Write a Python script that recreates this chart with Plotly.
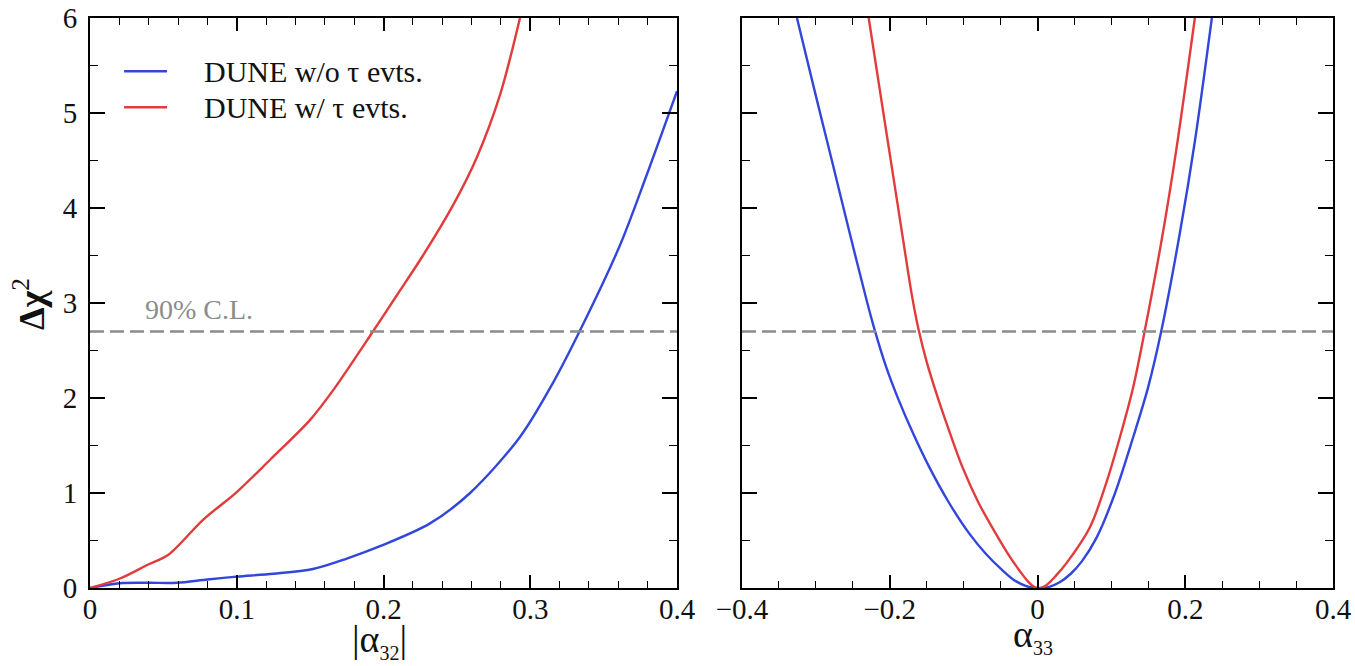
import plotly.graph_objects as go

# ---------------- data ----------------
# left panel: |alpha_32|
a32_wo_x = [0.0, 0.0204, 0.040, 0.059, 0.080, 0.100, 0.125, 0.152, 0.175, 0.1976, 0.2317, 0.259, 0.293, 0.3155, 0.3339, 0.3612, 0.3794, 0.400]
a32_wo_y = [0.0, 0.05, 0.055, 0.055, 0.09, 0.12, 0.15, 0.20, 0.31, 0.44, 0.68, 1.00, 1.59, 2.16, 2.71, 3.61, 4.35, 5.23]

a32_w_x = [0.0, 0.0204, 0.040, 0.0534, 0.0772, 0.100, 0.1227, 0.150, 0.1656, 0.1928, 0.2099, 0.2269, 0.2474, 0.2635, 0.2794, 0.293]
a32_w_y = [0.0, 0.10, 0.25, 0.35, 0.72, 1.01, 1.35, 1.77, 2.08, 2.70, 3.10, 3.50, 4.03, 4.53, 5.19, 6.0]

# right panel: alpha_33
a33_wo_x = [-0.3256, -0.300, -0.278, -0.255, -0.232, -0.222, -0.205, -0.188, -0.168, -0.147, -0.120, -0.093, -0.070, -0.048, -0.032,
            -0.017, -0.005, 0.005, 0.015, 0.030, 0.045, 0.060, 0.080, 0.105, 0.130, 0.150, 0.168, 0.193, 0.213, 0.236]
a33_wo_y = [6.0, 5.18, 4.49, 3.76, 3.05, 2.76, 2.33, 1.98, 1.62, 1.28, 0.90, 0.58, 0.36, 0.19, 0.085,
            0.025, 0.002, 0.0, 0.01, 0.06, 0.15, 0.28, 0.53, 1.00, 1.60, 2.12, 2.72, 3.75, 4.70, 6.0]

a33_w_x = [-0.2285, -0.213, -0.197, -0.183, -0.170, -0.161, -0.150, -0.134, -0.118, -0.102, -0.080, -0.057, -0.040, -0.025, -0.013,
           -0.004, 0.004, 0.012, 0.025, 0.040, 0.071, 0.092, 0.112, 0.130, 0.1455, 0.170, 0.188, 0.213]
a33_w_y = [6.0, 5.22, 4.42, 3.72, 3.08, 2.72, 2.38, 1.98, 1.62, 1.28, 0.90, 0.58, 0.36, 0.19, 0.07,
           0.01, 0.0, 0.03, 0.13, 0.27, 0.64, 1.08, 1.60, 2.13, 2.72, 3.75, 4.62, 6.0]

cl90 = 2.7
series_names = ["DUNE w/o τ evts.", "DUNE w/ τ evts."]
x_ticks_left = [0, 0.1, 0.2, 0.3, 0.4]
x_ticks_right = [-0.4, -0.2, 0, 0.2, 0.4]
x_ticklabels_right = ["\u22120.4", "\u22120.2", "0", "0.2", "0.4"]
y_ticks = [0, 1, 2, 3, 4, 5, 6]

# ---------------- style ----------------
BLUE = "#3346dc"
RED = "#e23b3b"
GRAY = "#8c8c8c"
FONT = "Liberation Serif"
W, H = 1355, 666

def px_x(p):
    return p / W

def px_y(p):
    return 1 - p / H

LINE = dict(width=2.4, shape="spline", smoothing=0.9)

fig = go.Figure()
fig.add_trace(go.Scatter(x=a32_wo_x, y=a32_wo_y, mode="lines", line=dict(color=BLUE, **LINE),
                         xaxis="x", yaxis="y", showlegend=False))
fig.add_trace(go.Scatter(x=a32_w_x, y=a32_w_y, mode="lines", line=dict(color=RED, **LINE),
                         xaxis="x", yaxis="y", showlegend=False))
fig.add_trace(go.Scatter(x=[0, 0.4], y=[cl90, cl90], mode="lines", line=dict(color=GRAY, width=2.5, dash="14px,6px"),
                         xaxis="x", yaxis="y", showlegend=False))

fig.add_trace(go.Scatter(x=a33_wo_x, y=a33_wo_y, mode="lines", line=dict(color=BLUE, **LINE),
                         xaxis="x2", yaxis="y2", showlegend=False))
fig.add_trace(go.Scatter(x=a33_w_x, y=a33_w_y, mode="lines", line=dict(color=RED, **LINE),
                         xaxis="x2", yaxis="y2", showlegend=False))
fig.add_trace(go.Scatter(x=[-0.4, 0.4], y=[cl90, cl90], mode="lines", line=dict(color=GRAY, width=2.5, dash="14px,6px"),
                         xaxis="x2", yaxis="y2", showlegend=False))

ydom = [px_y(588), px_y(18)]
common_axis = dict(showline=True, linecolor="black", linewidth=2, mirror="allticks", ticks="inside",
                   tickcolor="black", tickwidth=1.5, showgrid=False, zeroline=False, automargin=False,
                   ticklabeloverflow="allow",
                   tickfont=dict(family=FONT, size=29, color="#111"))
minor_common = dict(ticks="inside", tickcolor="black", tickwidth=1.2, showgrid=False)

fig.update_layout(
    width=W, height=H,
    margin=dict(l=0, r=0, t=0, b=0),
    paper_bgcolor="white", plot_bgcolor="white",
    xaxis=dict(domain=[px_x(90), px_x(677)], range=[0, 0.4], tickvals=x_ticks_left,
               ticktext=[("%g" % v) for v in x_ticks_left], ticklen=13, ticklabelstandoff=-6,
               minor=dict(dtick=0.02, ticklen=7, **minor_common),
               anchor="y", **common_axis),
    yaxis=dict(domain=ydom, range=[0, 6], tickvals=y_ticks, ticklen=15, ticklabelstandoff=5,
               minor=dict(dtick=0.5, ticklen=8, **minor_common),
               anchor="x", **common_axis),
    xaxis2=dict(domain=[px_x(742), px_x(1333)], range=[-0.4, 0.4], tickvals=x_ticks_right,
                ticktext=x_ticklabels_right, ticklen=13, ticklabelstandoff=-6,
                minor=dict(dtick=0.05, ticklen=7, **minor_common),
                anchor="y2", **common_axis),
    yaxis2=dict(domain=ydom, range=[0, 6], tickvals=y_ticks, ticklen=15, showticklabels=False,
                minor=dict(dtick=0.5, ticklen=8, **minor_common),
                anchor="x2", **common_axis),
)

# legend (drawn inside left panel)
leg_y = [5.44, 5.06]
for name, col, yy in zip(series_names, [BLUE, RED], leg_y):
    fig.add_shape(type="line", xref="x", yref="y", x0=0.0232, x1=0.0525, y0=yy, y1=yy,
                  line=dict(color=col, width=2.4))
    fig.add_annotation(xref="x", yref="y", x=0.0765, y=yy, text=name, showarrow=False, xanchor="left",
                       yanchor="middle", font=dict(family=FONT, size=30, color="#111"))

# CL label
fig.add_annotation(xref="x", yref="y", x=0.0745, y=2.93, text="90% C.L.", showarrow=False,
                   xanchor="center", yanchor="middle", font=dict(family=FONT, size=28, color=GRAY))

# axis titles
fig.add_annotation(xref="paper", yref="paper", x=px_x(30), y=px_y(304),
                   text="<b>Δχ</b><sup>2</sup>",
                   showarrow=False, textangle=-90, xanchor="center", yanchor="middle",
                   font=dict(family=FONT, size=36, color="#111"))
fig.add_annotation(xref="paper", yref="paper", x=px_x(380), y=px_y(641),
                   text="|α<sub><span style='font-size:20px'>32</span></sub>|",
                   showarrow=False, xanchor="center", yanchor="middle",
                   font=dict(family=FONT, size=38, color="#111"))
fig.add_annotation(xref="paper", yref="paper", x=px_x(1033), y=px_y(636),
                   text="α<sub><span style='font-size:20px'>33</span></sub>",
                   showarrow=False, xanchor="center", yanchor="middle",
                   font=dict(family=FONT, size=38, color="#111"))

fig.write_html("out.html", config={"displayModeBar": False},
               post_script="document.body.style.margin='0px';")
